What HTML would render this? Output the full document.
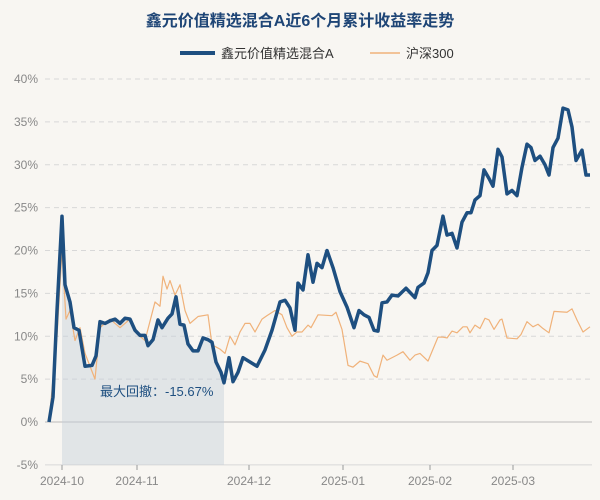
<!DOCTYPE html>
<html><head><meta charset="utf-8"><style>
body{margin:0;background:#f8f6f2;}
svg{display:block;font-family:"Liberation Sans","Noto Sans CJK SC",sans-serif;}
</style></head><body>
<svg id="chart" width="600" height="500" xmlns="http://www.w3.org/2000/svg">
<rect x="0" y="0" width="600" height="500" fill="#f8f6f2"/>
<text x="300" y="26" text-anchor="middle" font-size="16" font-weight="bold" fill="#1e4576">鑫元价值精选混合A近6个月累计收益率走势</text>
<g>
<line x1="180" y1="53" x2="215" y2="53" stroke="#1e4f80" stroke-width="4"/>
<text x="221" y="58" font-size="13" fill="#333">鑫元价值精选混合A</text>
<line x1="370" y1="53" x2="400" y2="53" stroke="#f0b27a" stroke-width="1.5"/>
<text x="406" y="58" font-size="13" fill="#333">沪深300</text>
</g>
<g id="grid"></g><g id="area"></g><g id="series"></g><g id="axes"></g>
</svg>
<script>
const yTicks=[-5,0,5,10,15,20,25,30,35,40];
const xTickLabels=["2024-10","2024-11","2024-12","2025-01","2025-02","2025-03"];
const xTickT=[2.6,17.6,40,58.8,76.2,92.8];
const fundT=[0,0.8,1.6,2.6,3.2,4.2,5,6,7.2,8.6,9.4,10.2,11.2,12.2,13.2,14.2,15.2,16.2,17.2,18.2,19.2,19.8,20.8,21.8,22.6,23.8,24.6,25.4,26.2,27,27.8,28.8,29.8,30.8,31.8,32.6,33.4,34.4,35,36,36.8,37.8,38.8,40.2,41.6,43.2,44.6,46.2,47.2,48.2,49.2,49.8,50.8,51.8,52.8,53.6,54.6,55.6,56.8,58.2,59.6,61,62,63,64,65,65.8,66.6,67.6,68.6,69.8,71.4,73.2,73.8,75,75.8,76.6,77.6,78.8,79.6,80.6,81.6,82.6,83.6,84.4,85.2,86.2,87,88,88.8,89.8,90.6,91.6,92.6,93.6,94.6,95.6,96.4,97.2,98.2,99.2,100,100.8,101.8,102.8,103.8,104.6,105.4,106.6,107.4,108.2];
const fundV=[0,2.9,13,24,16,14,11,10.7,6.5,6.6,7.7,11.7,11.5,11.8,12,11.5,12.1,12,10.7,10.1,10.1,8.9,9.6,11.9,11,12.1,12.6,14.6,11.4,11.3,9.1,8.3,8.3,9.8,9.6,9.3,7,5.8,4.57,7.5,4.7,5.8,7.5,7,6.5,8.4,10.7,14,14.2,13.3,10.7,16.2,15.4,19.5,16.3,18.5,18,20,18,15.2,13.4,11,13,12.5,12.2,10.7,10.6,13.9,14,14.8,14.7,15.6,14.5,15.7,16.2,17.4,20,20.6,24,21.8,22,20.3,23.3,24.4,24.4,25.9,26.4,29.4,28.4,27.5,31.8,30.9,26.6,27,26.4,29.7,32.4,32,30.5,31,30,28.8,32,33.1,36.6,36.4,34.4,30.5,31.7,28.8,28.8];
const hsT=[0,1.6,2.6,3.4,4.2,5.2,6.2,7.2,8.2,9.2,10.2,12.2,14.2,16.2,18.2,19.2,21.2,22.2,22.8,23.6,24.2,25.2,26.2,27.2,28.2,29.8,31.8,32.6,34.2,35.2,36.2,37.2,38.2,39.2,40.2,41.2,42.6,43.6,45.2,46.6,47.6,48.6,49.6,50.6,51.8,52.4,53.8,56.6,57.4,58.6,59.8,60.8,62.2,63.8,65,65.6,66.8,67.6,69.6,70.8,72.2,73.2,74.2,75.8,77.8,78.8,79.6,80.6,81.6,82.8,83.6,84.2,85.2,86.2,87.2,88,89,90.2,90.6,91.6,93.6,94.4,95.6,96.8,97.8,98.8,100,101,103.6,104.6,105.6,106.8,108.2];
const hsV=[0,10,20,12,13,9.5,11,8,6.5,5,11,12,11,12,10,9.5,14,13.5,17,15.5,16.5,14.8,16,13,11.5,12.3,12.5,9,8.5,8,10,9,10.5,11.5,11.5,10.5,12,12.4,13,12.5,11,10,10.5,10.5,11.3,11,12.5,12.4,12.8,10.8,6.6,6.4,7.1,6.8,5.4,5.2,7.8,7.2,7.8,8.2,7.2,7.8,8,7.1,9.9,9.9,9.8,10.6,10.4,11.1,11.1,10.4,11.3,10.9,12.1,11.9,10.8,11.9,12,9.8,9.7,10.2,11.7,11.1,11.4,10.9,10.4,12.9,12.8,13.2,11.9,10.5,11.1,10.6];
const ns="http://www.w3.org/2000/svg";
const X0=49,X1=590,T1=108.2,Y0=422,PER=8.575;
function xs(t){return X0+(X1-X0)*t/T1;}
function ys(v){return Y0-v*PER;}
function mk(tag,attrs,parent){const e=document.createElementNS(ns,tag);for(const k in attrs)e.setAttribute(k,attrs[k]);document.getElementById(parent).appendChild(e);return e;}
yTicks.forEach(v=>{
  const g=mk('line',{x1:45,x2:592,y1:ys(v),y2:ys(v),stroke:v===0?'#bbb':'#d8d8d8','stroke-dasharray':(v===0||v===-5)?'':'5,4','stroke-width':1},'grid');
  
  
  const t=mk('text',{x:38,y:ys(v)+4,'text-anchor':'end','font-size':12,fill:'#888'},'axes');
  t.textContent=v+'%';
  
  
});
xTickLabels.forEach((l,i)=>{
  const x=xs(xTickT[i]);
  const tk=mk('line',{x1:x,x2:x,y1:465,y2:470,stroke:'#999'},'axes');
  
  
  const t=mk('text',{x:x,y:485,'text-anchor':'middle','font-size':12,fill:'#888'},'axes');
  t.textContent=l;
  
  
});
let runPk=0,best=0,pk=0,tr=0;
for(let i=0;i<fundV.length;i++){
  if(fundV[i]>fundV[runPk])runPk=i;
  const ddi=(1+fundV[i]/100)/(1+fundV[runPk]/100)-1;
  if(ddi<best){best=ddi;pk=runPk;tr=i;}
}
let d='M'+xs(fundT[pk])+','+ys(-5);
for(let i=pk;i<=tr;i++)d+='L'+xs(fundT[i])+','+ys(fundV[i]);
d+='L'+xs(fundT[tr])+','+ys(-5)+'Z';
const ar=mk('path',{d:d,fill:'#c5d0da','fill-opacity':0.45},'area');


const dt=mk('text',{x:100,y:396,'font-size':13,fill:'#1e4f80'},'area');
dt.textContent='最大回撤：'+(best*100).toFixed(2)+'%';


function line(T,V,color,w,name){
  const p=mk('path',{d:T.map((t,i)=>(i?'L':'M')+xs(t)+','+ys(V[i])).join(''),fill:'none',stroke:color,'stroke-width':w,'stroke-linejoin':'round'},'series');
  
  
}
line(hsT,hsV,'#f0b27a',1.2,'hs300-line');
line(fundT,fundV,'#1e4f80',3.5,'fund-line');
</script>
</body></html>
